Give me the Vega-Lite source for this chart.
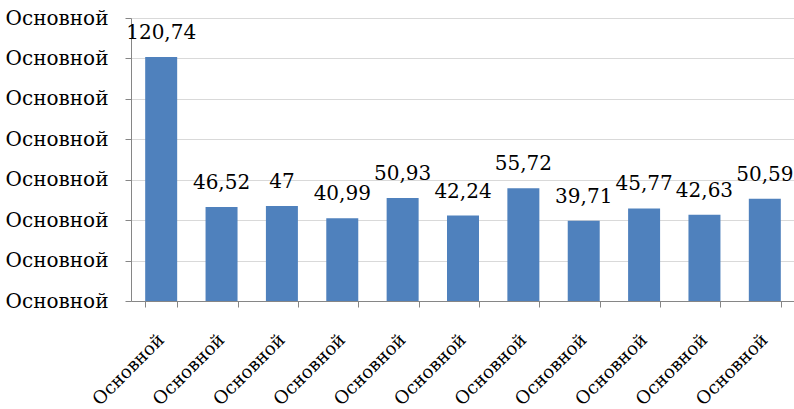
{
  "$schema": "https://vega.github.io/schema/vega-lite/v6.json",
  "width": 664,
  "height": 283,
  "autosize": {"type": "none"},
  "padding": {"left": 131, "top": 18, "right": 0, "bottom": 108},
  "background": "white",
  "config": {
    "view": {"stroke": null},
    "font": "DejaVu Serif",
    "locale": {"number": {"decimal": ",", "thousands": " ", "grouping": [3], "currency": ["", ""]}}
  },
  "data": {"values": [
    {"k": "1", "v": 120.74},
    {"k": "2", "v": 46.52},
    {"k": "3", "v": 47},
    {"k": "4", "v": 40.99},
    {"k": "5", "v": 50.93},
    {"k": "6", "v": 42.24},
    {"k": "7", "v": 55.72},
    {"k": "8", "v": 39.71},
    {"k": "9", "v": 45.77},
    {"k": "10", "v": 42.63},
    {"k": "11", "v": 50.59}
  ]},
  "encoding": {
    "x": {
      "field": "k", "type": "nominal", "sort": null,
      "scale": {"paddingInner": 0.47, "paddingOuter": 0.235},
      "axis": {
        "title": null, "labelExpr": "datum.label == '' ? '' : 'Основной'", "labelAngle": -45,
        "labelAlign": "right", "labelBaseline": "middle",
        "labelFont": "DejaVu Serif", "labelFontSize": 18, "labelColor": "#000000",
        "labelPadding": 30, "tickBand": "extent", "tickSize": 6,
        "tickColor": "#868686", "domainColor": "#868686", "grid": false,
        "labelOverlap": false
      }
    },
    "y": {
      "field": "v", "type": "quantitative",
      "scale": {"domain": [0, 140], "nice": false},
      "axis": {
        "title": null, "values": [0, 20, 40, 60, 80, 100, 120, 140],
        "labelExpr": "'Основной'", "labelFont": "DejaVu Serif", "labelFontSize": 20,
        "labelColor": "#000000", "labelPadding": 17, "tickSize": 6,
        "tickColor": "#868686", "domainColor": "#868686",
        "gridColor": "#D9D9D9", "labelOverlap": false
      }
    }
  },
  "layer": [
    {"mark": {"type": "bar", "color": "#4F81BD"}},
    {
      "mark": {"type": "text", "baseline": "alphabetic", "dy": -18, "font": "DejaVu Serif", "fontSize": 20, "color": "#000000"},
      "encoding": {"text": {"field": "v", "type": "quantitative", "format": "~f"}}
    }
  ]
}
